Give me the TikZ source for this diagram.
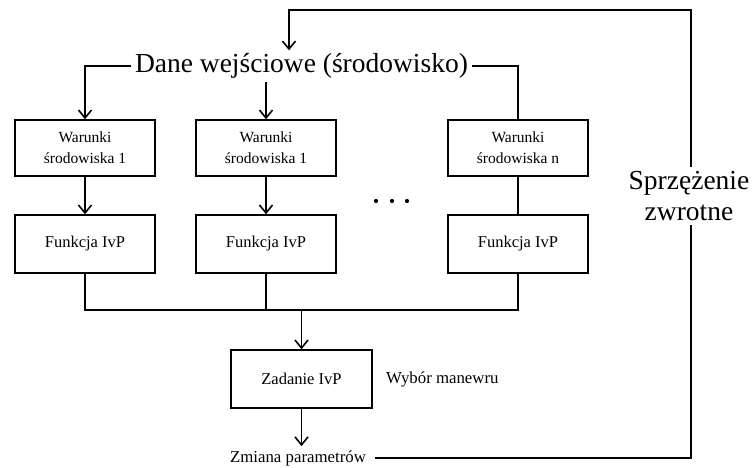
\documentclass[tikz,border=0pt]{standalone}
\usepackage{fontspec}
\setmainfont{Liberation Serif}
\usetikzlibrary{arrows.meta}

\begin{document}
\begin{tikzpicture}[x=1pt,y=-1pt,
  conn/.style={line width=1.6pt},
  arr/.style={conn,-{Straight Barb[length=8pt,width=13pt]}},
  bigtext/.style={inner xsep=4pt,inner ysep=3pt,font=\fontsize{27.5}{31}\selectfont},
  condbox/.style={draw,line width=1.4pt,minimum width=140pt,minimum height=56pt,
    inner sep=0pt,align=center,font=\fontsize{15.5}{21}\selectfont},
  funcbox/.style={draw,line width=1.4pt,minimum width=140pt,minimum height=58pt,
    inner sep=0pt,align=center,font=\fontsize{16.5}{20}\selectfont},
  plainlabel/.style={inner sep=3pt,font=\fontsize{16.8}{20}\selectfont}
]
\useasboundingbox (0,0) rectangle (753,468);

% input data
\node[bigtext] (din) at (301.5,66) {Dane wejściowe (środowisko)};

% environment conditions
\node[condbox] (w1) at (85,148) {Warunki\\środowiska 1};
\node[condbox] (w2) at (266,148) {Warunki\\środowiska 1};
\node[condbox] (w3) at (518,148) {Warunki\\środowiska n};

% IvP functions
\node[funcbox] (f1) at (85,244) {Funkcja IvP};
\node[funcbox] (f2) at (266,244) {Funkcja IvP};
\node[funcbox] (f3) at (518,244) {Funkcja IvP};

% ellipsis between the columns
\fill (376,201) circle (2.1pt) (392,201) circle (2.1pt) (407,201) circle (2.1pt);

% IvP problem and manoeuvre choice
\coordinate (bus) at (301.5,310);
\node[funcbox,minimum width=141pt] (z) at (301.5,379) {Zadanie IvP};
\node[plainlabel,anchor=west] (wyb) at (383,379) {Wybór manewru};
\node[plainlabel,inner xsep=9pt,inner ysep=4pt] (zm) at (298,458) {Zmiana parametrów};

% feedback
\node[bigtext,align=center,inner ysep=4pt] (sprz) at (689,196) {Sprzężenie\\zwrotne};
\coordinate (fbR) at (691,458);
\coordinate (fbT) at (691,10);
\coordinate (fbL) at (289,10);

% input distribution
\draw[arr] (din.west) -- (din.west -| w1.north) -- (w1.north);
\draw[arr] (din.south -| w2.north) -- (w2.north);
\draw[conn] (din.east) -- (din.east -| w3.north) -- (w3.north);

% conditions to functions
\draw[arr] (w1.south) -- (f1.north);
\draw[arr] (w2.south) -- (f2.north);
\draw[conn] (w3.south) -- (f3.north);

% functions merged into the IvP problem
\draw[conn] (f1.south) |- (bus) -| (f3.south);
\draw[conn] (f2.south) -- (f2.south |- bus);
\draw[arr] (bus) -- (z.north);
\draw[arr] (z.south) -- (z.south |- zm.north);

% feedback loop
\draw[conn] (zm.east) -- (fbR) -- (sprz.south -| fbR);
\draw[arr] (sprz.north -| fbT) -- (fbT) -- (fbL) -- (din.north -| fbL);
\end{tikzpicture}
\end{document}
